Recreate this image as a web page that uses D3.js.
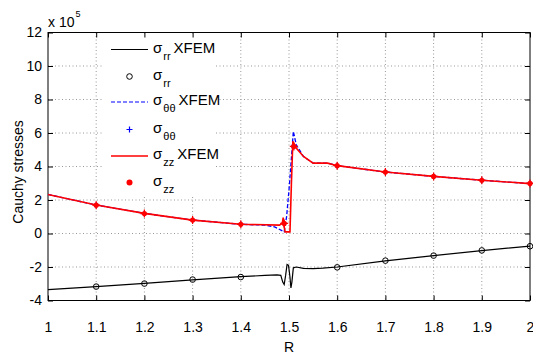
<!DOCTYPE html>
<html><head><meta charset="utf-8">
<script src="https://cdn.jsdelivr.net/npm/d3@7"></script>
<style>body{margin:0;background:#fff}svg{display:block}text{font-family:"Liberation Sans",Arial,sans-serif}</style>
</head><body><svg id="c" width="533" height="355"></svg>
<script>
// ---- data (stress values in units of 1e5) ----
const xTicks = [1,1.1,1.2,1.3,1.4,1.5,1.6,1.7,1.8,1.9,2];
const xTickLabels = ["1","1.1","1.2","1.3","1.4","1.5","1.6","1.7","1.8","1.9","2"];
const yTicks = [-4,-2,0,2,4,6,8,10,12];
const yTickLabels = ["-4","-2","0","2","4","6","8","10","12"];

// XFEM curves
const rrLineR =   [1.0,1.1,1.2,1.3,1.4,1.45,1.475,1.483,1.487,1.490,1.493,1.496,1.499,1.502,1.504,1.506,1.509,1.515,1.53,1.55,1.57,1.6,1.7,1.8,1.9,2.0];
const rrLineV =   [-3.35,-3.17,-2.98,-2.77,-2.58,-2.5,-2.47,-2.5,-2.9,-3.05,-2.5,-1.85,-1.9,-2.6,-3.25,-2.9,-2.05,-2.0,-2.08,-2.1,-2.07,-2.0,-1.63,-1.32,-1.02,-0.75];
const ttLineR =   [1.0,1.1,1.2,1.3,1.4,1.45,1.47,1.49,1.495,1.50,1.505,1.509,1.515,1.53,1.55,1.58,1.6,1.7,1.8,1.9,2.0];
const ttLineV =   [2.33,1.7,1.2,0.8,0.55,0.5,0.4,0.1,1.0,2.6,4.5,6.1,5.3,4.6,4.2,4.2,4.05,3.67,3.41,3.18,2.98];
const zzLineR =   [1.0,1.1,1.2,1.3,1.4,1.48,1.486,1.488,1.490,1.492,1.497,1.502,1.505,1.508,1.515,1.53,1.55,1.58,1.6,1.7,1.8,1.9,2.0];
const zzLineV =   [2.33,1.7,1.2,0.8,0.55,0.5,0.6,0.95,0.4,0.1,0.1,0.1,3.0,5.5,5.1,4.6,4.2,4.2,4.05,3.67,3.41,3.18,2.98];

// analytical points
const rrPtR = [1.1,1.2,1.3,1.4,1.6,1.7,1.8,1.9,2.0];
const rrPtV = [-3.17,-2.99,-2.75,-2.6,-2.02,-1.62,-1.32,-1.01,-0.76];
const ttPtR = [1.1,1.2,1.3,1.4,1.49,1.51,1.6,1.7,1.8,1.9,2.0];
const ttPtV = [1.69,1.19,0.8,0.55,0.6,5.2,4.05,3.67,3.41,3.18,2.99];
const zzPtR = [1.1,1.2,1.3,1.4,1.49,1.51,1.6,1.7,1.8,1.9,2.0];
const zzPtV = [1.69,1.19,0.8,0.55,0.6,5.2,4.05,3.67,3.41,3.18,2.99];

const svg = d3.select("#c");
const x = d3.scaleLinear([1,2],[48,530]);
const y = d3.scaleLinear([-4,12],[300.5,32.5]);
const L=48,R=530,T=32.5,B=300.5;

const g = svg.append("g");
// grid
xTicks.slice(1,-1).forEach(t=>g.append("line").attr("x1",x(t)).attr("x2",x(t)).attr("y1",T).attr("y2",B)
  .attr("stroke","#999").attr("stroke-width",1).attr("stroke-dasharray","1,2.5"));
yTicks.slice(1,-1).forEach(t=>g.append("line").attr("x1",L).attr("x2",R).attr("y1",y(t)).attr("y2",y(t))
  .attr("stroke","#999").attr("stroke-width",1).attr("stroke-dasharray","1,2.5"));

// legend background (covers grid)
svg.append("rect").attr("x",102).attr("y",36).attr("width",113).attr("height",160).attr("fill","#fff");

// axes with inward ticks
const axB = d3.axisBottom(x).tickValues(xTicks).tickFormat((d,i)=>xTickLabels[i]).tickSizeInner(-5).tickSizeOuter(0).tickPadding(22);
const axT = d3.axisTop(x).tickValues(xTicks).tickFormat("").tickSizeInner(-5).tickSizeOuter(0);
const axL = d3.axisLeft(y).tickValues(yTicks).tickFormat((d,i)=>yTickLabels[i]).tickSizeInner(-5).tickSizeOuter(0).tickPadding(6);
const axR = d3.axisRight(y).tickValues(yTicks).tickFormat("").tickSizeInner(-5).tickSizeOuter(0);
function style(sel){sel.selectAll("path").remove();sel.selectAll("line").attr("stroke","#000");
  sel.selectAll("text").attr("font-size",14).attr("fill","#000").attr("font-family",'"Liberation Sans",Arial,sans-serif');}
svg.append("g").attr("transform",`translate(0,${B})`).call(axB).call(style);
svg.append("g").attr("transform",`translate(0,${T})`).call(axT).call(style);
svg.append("g").attr("transform",`translate(${L},0)`).call(axL).call(style);
svg.append("g").attr("transform",`translate(${R},0)`).call(axR).call(style);
svg.append("rect").attr("x",L).attr("y",T).attr("width",R-L).attr("height",B-T).attr("fill","none").attr("stroke","#000").attr("stroke-width",1);

// lines
const line = d3.line().x(d=>x(d[0])).y(d=>y(d[1]));
const zip=(a,b)=>a.map((v,i)=>[v,b[i]]);
const plot = svg.append("g");
plot.append("path").datum(zip(rrLineR,rrLineV)).attr("d",line).attr("fill","none").attr("stroke","#000").attr("stroke-width",1.2);
plot.append("path").datum(zip(ttLineR,ttLineV)).attr("d",line).attr("fill","none").attr("stroke","#0000ff").attr("stroke-width",1.3).attr("stroke-dasharray","4,2");
// blue + markers
plot.selectAll(".tp").data(zip(ttPtR,ttPtV)).join("path").attr("d",d=>`M${x(d[0])-3},${y(d[1])}h6M${x(d[0])},${y(d[1])-3}v6`).attr("stroke","#0000ff").attr("stroke-width",1.2);
plot.append("path").datum(zip(zzLineR,zzLineV)).attr("d",line).attr("fill","none").attr("stroke","#ff0000").attr("stroke-width",1.6);
// red * markers
plot.selectAll(".zp").data(zip(zzPtR,zzPtV)).join("g").each(function(d){
  const s=d3.select(this), cx=x(d[0]), cy=y(d[1]);
  s.append("circle").attr("cx",cx).attr("cy",cy).attr("r",2.6).attr("fill","#ff0000");
  s.append("path").attr("d",`M${cx-4},${cy}h8M${cx},${cy-4}v8`).attr("stroke","#ff0000").attr("stroke-width",1.2);
});
// black o markers
plot.selectAll(".rp").data(zip(rrPtR,rrPtV)).join("circle").attr("cx",d=>x(d[0])).attr("cy",d=>y(d[1])).attr("r",2.8)
  .attr("fill","none").attr("stroke","#000").attr("stroke-width",1);

// legend
const lg = svg.append("g");
const rows=[
 {y:49.5,type:"line",color:"#000",dash:null,sub:"rr",xf:true},
 {y:76.5,type:"o",color:"#000",sub:"rr",xf:false},
 {y:102,type:"line",color:"#0000ff",dash:"4,2",sub:"θθ",xf:true},
 {y:129.5,type:"+",color:"#0000ff",sub:"θθ",xf:false},
 {y:156,type:"line",color:"#ff0000",dash:null,sub:"zz",xf:true},
 {y:182.5,type:"*",color:"#ff0000",sub:"zz",xf:false}];
rows.forEach(r=>{
  if(r.type==="line") lg.append("line").attr("x1",111).attr("x2",148).attr("y1",r.y).attr("y2",r.y).attr("stroke",r.color).attr("stroke-width",r.color==="#ff0000"?1.6:1.2).attr("stroke-dasharray",r.dash);
  if(r.type==="o") lg.append("circle").attr("cx",129.5).attr("cy",r.y).attr("r",2.8).attr("fill","none").attr("stroke","#000");
  if(r.type==="+") lg.append("path").attr("d",`M${126.5},${r.y}h6M129.5,${r.y-3}v6`).attr("stroke",r.color).attr("stroke-width",1.2);
  if(r.type==="*") lg.append("circle").attr("cx",129.5).attr("cy",r.y).attr("r",3).attr("fill",r.color);
  const t=lg.append("text").attr("x",153).attr("y",r.y+3).attr("font-size",15);
  t.append("tspan").text("σ");
  t.append("tspan").attr("font-size",11).attr("dy",7).attr("dx",1).text(r.sub);
  if(r.xf) t.append("tspan").attr("dy",-7).attr("dx",3).text("XFEM");
});

// exponent label
const ex = svg.append("text").attr("x",48).attr("y",27).attr("font-size",14);
ex.append("tspan").text("x 10");
ex.append("tspan").attr("font-size",9).attr("dy",-10).attr("dx",1).text("5");

// axis labels
svg.append("text").attr("x",289).attr("y",352).attr("text-anchor","middle").attr("font-size",14).text("R");
svg.append("text").attr("transform","translate(23,172) rotate(-90)").attr("text-anchor","middle").attr("font-size",14).text("Cauchy stresses");
</script></body></html>
